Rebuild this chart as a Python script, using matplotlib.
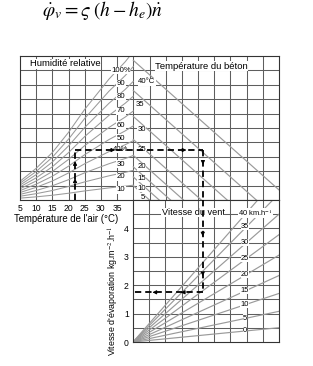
import matplotlib
matplotlib.use("Agg")
import matplotlib.pyplot as plt

plt.rcParams['font.family'] = ['Liberation Sans', 'DejaVu Sans']
plt.rcParams['mathtext.fontset'] = 'stix'

# ---------------- data ----------------
air_temp_ticks = [5, 10, 15, 20, 25, 30, 35]
sat_temps = [5, 7.5, 10, 12.5, 15, 17.5, 20, 22.5, 25, 27.5, 30, 32.5, 35, 37.5, 40]
sat_levels = [1.3, 1.75, 2.2, 2.75, 3.3, 4.0, 4.7, 5.5, 6.3, 7.0, 7.7, 8.4, 9.0, 9.6, 10.3]
rh_levels = [10, 20, 30, 40, 50, 60, 70, 80, 90, 100]
rh_labels = ['10', '20', '30', '40%', '50', '60', '70', '80', '90', '100%']
rh_label_levels = [0.7, 1.6, 2.5, 3.5, 4.3, 5.2, 6.2, 7.2, 8.1, 9.0]

concrete_temps = [40, 35, 30, 25, 20, 15, 10, 5]
concrete_labels = ['40°C', '35', '30', '25', '20', '15', '10', '5']
concrete_start = [9.7, 7.6, 5.8, 4.2, 3.1, 2.3, 1.6, 1.0]
concrete_label_x = [44.2, 42.0, 42.6, 42.6, 42.6, 42.6, 42.6, 42.8]
concrete_label_levels = [8.2, 6.6, 4.9, 3.5, 2.3, 1.5, 0.8, 0.2]

wind_speeds = [0, 5, 10, 15, 20, 25, 30, 35, 40]
wind_labels = ['0', '5', '10', '15', '20', '25', '30', '35', '40 km.h$^{-1}$']
wind_slopes = [0.056, 0.12, 0.19, 0.26, 0.34, 0.42, 0.50, 0.58, 0.65]

evap_ticks = [0, 1, 2, 3, 4]

path_air_temp = 22.0
path_level = 3.47
path_delta = 4.3
path_evap = 1.75

GRID = '#5e5e5e'
LINE = '#9a9a9a'

fig = plt.figure(figsize=(3.13, 3.66), dpi=100)

fig.text(0.326, 0.972, r'$\dot{\varphi}_v = \varsigma\;(h - h_e)\dot{n}$',
         ha='center', va='center', fontsize=14)

bb = dict(facecolor='white', edgecolor='none', pad=0.2)
ap = dict(arrowstyle='-|>', color='black', lw=0.6, mutation_scale=6, shrinkA=0, shrinkB=0)
dk = dict(color='black', lw=1.3, ls=(0, (3.5, 2.2)), zorder=5)

# ---------------- upper panel ----------------
ax = fig.add_axes([20/313, 1-200/366, 259/313, 144/366])
ax.set_xlim(5, 85)
ax.set_ylim(0, 10)
for x in range(10, 85, 5):
    ax.axvline(x, color=GRID, lw=0.75, zorder=1)
for y in range(1, 10):
    ax.axhline(y, color=GRID, lw=0.75, zorder=1)
for s in ax.spines.values():
    s.set_color('#333333'); s.set_linewidth(0.8)
ax.set_xticks(air_temp_ticks)
ax.set_xticklabels([str(t) for t in air_temp_ticks], fontsize=6.2)
ax.tick_params(axis='x', length=0, pad=3)
ax.set_yticks([])
ax.set_xlabel("Température de l'air (°C)", fontsize=6.9, labelpad=1)
ax.xaxis.set_label_coords(0.18, -0.095)

for rh in rh_levels:
    ax.plot(sat_temps, [rh / 100 * v for v in sat_levels], color=LINE, lw=0.75, zorder=2)
for lab, lv in zip(rh_labels, rh_label_levels):
    ax.text(36.2, lv, lab, fontsize=5.6, ha='center', va='center', bbox=bb, zorder=4)

for st in concrete_start:
    ax.plot([40, 40 + 5 * st], [st, 0], color=LINE, lw=0.85, zorder=2)
for lab, lx, lv in zip(concrete_labels, concrete_label_x, concrete_label_levels):
    ax.text(lx, lv, lab, fontsize=5.6, ha='center', va='center', bbox=bb, zorder=4)

ax.text(8.2, 9.45, 'Humidité relative', fontsize=6.8, ha='left', va='center', bbox=bb, zorder=4)
ax.text(46.7, 9.3, 'Température du béton', fontsize=6.8, ha='left', va='center', bbox=bb, zorder=4)

# dashed path (upper part)
up_x_right = 40 + path_delta * 5
ax.plot([path_air_temp, path_air_temp], [0, path_level], **dk)
ax.plot([path_air_temp, up_x_right], [path_level, path_level], **dk)
ax.plot([up_x_right, up_x_right], [path_level, 0], **dk)
for yy in [1.25, 2.45]:
    ax.annotate('', xy=(path_air_temp, yy + 0.25), xytext=(path_air_temp, yy), arrowprops=ap, zorder=6)
for xx in [33.2, 55.2]:
    ax.annotate('', xy=(xx + 1.2, path_level), xytext=(xx, path_level), arrowprops=ap, zorder=6)
ax.annotate('', xy=(up_x_right, 2.45), xytext=(up_x_right, 2.7), arrowprops=ap, zorder=6)

# ---------------- lower panel ----------------
bx = fig.add_axes([133/313, 1-342/366, 146/313, 142/366])
bx.set_xlim(0, 9)
bx.set_ylim(0, 5)
for x in range(1, 9):
    bx.axvline(x, color=GRID, lw=0.75, zorder=1)
for y in [0.5, 1, 1.5, 2, 2.5, 3, 3.5, 4, 4.5]:
    bx.axhline(y, color=GRID, lw=0.75, zorder=1)
for s in bx.spines.values():
    s.set_color('#333333'); s.set_linewidth(0.8)
bx.set_xticks([])
bx.set_yticks(evap_ticks)
bx.set_yticklabels([str(t) for t in evap_ticks], fontsize=6.2)
bx.tick_params(axis='y', length=0, pad=3)
bx.set_ylabel("Vitesse d'évaporation kg.m$^{-2}$.h$^{-1}$", fontsize=6.4, labelpad=2)
bx.yaxis.set_label_coords(-0.085, 0.36)

for sl in wind_slopes:
    bx.plot([0, 9], [0, 9 * sl], color=LINE, lw=0.85, zorder=2)
for lab, sl in zip(wind_labels, wind_slopes):
    ha = 'center'
    xx = 6.9
    if 'km' in lab:
        ha = 'left'; xx = 6.5
    bx.text(xx, 7.0 * sl, lab, fontsize=5.4, ha=ha, va='center', bbox=bb, zorder=4)
bx.text(3.7, 4.56, 'Vitesse du vent', fontsize=6.6, ha='center', va='center', bbox=bb, zorder=4)

bx.plot([path_delta, path_delta], [5, path_evap], **dk)
bx.plot([path_delta, 0], [path_evap, path_evap], **dk)
for yy in [3.85, 2.45]:
    bx.annotate('', xy=(path_delta, yy - 0.13), xytext=(path_delta, yy), arrowprops=ap, zorder=6)
for xx in [1.45, 3.2]:
    bx.annotate('', xy=(xx - 0.25, path_evap), xytext=(xx, path_evap), arrowprops=ap, zorder=6)

fig.savefig('out.png', dpi=100)
